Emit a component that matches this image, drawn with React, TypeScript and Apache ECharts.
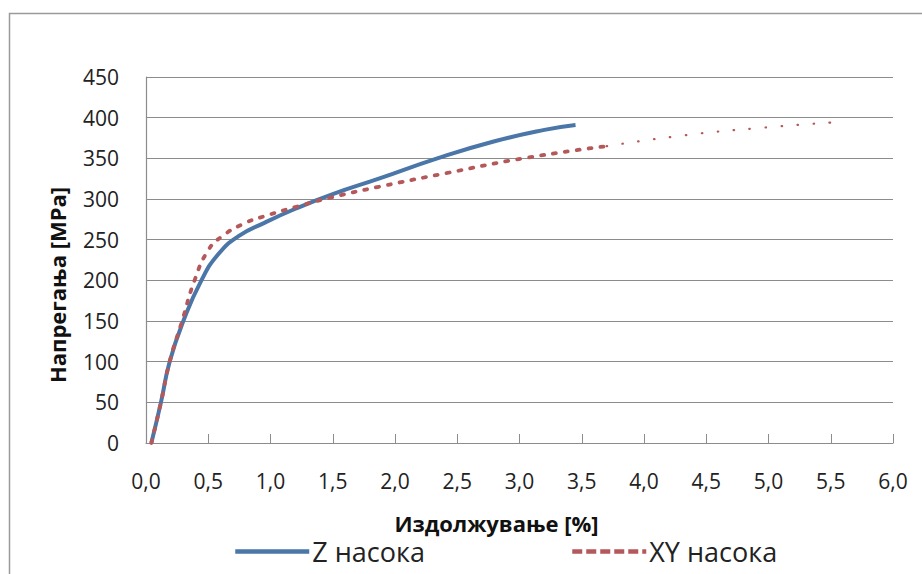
import React, { useEffect, useRef } from "react";
import * as echarts from "echarts";

const xTicks = { min: 0, max: 6, interval: 0.5 };
const yTicks = { min: 0, max: 450, interval: 50 };

const zStrain = [0.043, 0.12, 0.19, 0.30, 0.445, 0.58, 0.74, 0.955, 1.2, 1.5, 1.87, 2.34, 2.8, 3.2, 3.45];
const zStress = [0, 50, 100, 150, 200, 232, 254, 271, 288, 306, 325, 350, 371, 385, 391];

const xyStrain = [0.043, 0.12, 0.19, 0.29, 0.39, 0.5, 0.61, 0.79, 0.955, 1.22, 1.49, 1.87, 2.42, 3.03, 3.7, 4.36, 4.98, 5.5];
const xyStress = [0, 50, 100, 150, 200, 237, 254, 270, 279, 291, 302, 315, 332, 350, 365, 379, 388, 394];

const xTitle = "Издолжување [%]";
const yTitle = "Напрегања [MPa]";
const zName = "Z насока";
const xyName = "XY насока";

const FONT = "'Open Sans', 'Liberation Sans', sans-serif";

export default function App() {
  const ref = useRef<HTMLDivElement>(null);
  useEffect(() => {
    if (!ref.current) return;
    const chart = echarts.init(ref.current, undefined, { renderer: "svg" });
    const zData = zStrain.map((x, i) => [x, zStress[i]]);
    const xyAll = xyStrain.map((x, i) => [x, xyStress[i]]);
    const split = xyStrain.findIndex((x) => x >= 3.7);
    const xyMain = xyAll.slice(0, split + 1);
    const xyTail = xyAll.slice(split);
    const blue = "#4a76a8";
    const red = "#b5585a";
    const legendBase = {
      top: 533,
      itemWidth: 74,
      itemHeight: 14,
      itemGap: 4,
      itemStyle: { opacity: 0 },
      textStyle: { fontSize: 27, color: "#222", fontFamily: FONT, padding: [0, 0, 0, -2] },
    };
    chart.setOption({
      animation: false,
      backgroundColor: "#ffffff",
      textStyle: { fontFamily: FONT },
      graphic: [
        {
          type: "rect",
          left: 7,
          top: 11,
          shape: { x: 0, y: 0, width: 940, height: 600 },
          style: { fill: "none", stroke: "#9a9a9a", lineWidth: 1.5 },
          silent: true,
        },
      ],
      grid: { left: 146, right: 29, top: 77, bottom: 131 },
      xAxis: {
        type: "value",
        min: xTicks.min,
        max: xTicks.max,
        interval: xTicks.interval,
        name: xTitle,
        nameLocation: "middle",
        nameGap: 69,
        nameTextStyle: {
          fontSize: 22,
          fontWeight: "bold",
          color: "#111",
          fontFamily: FONT,
          padding: [0, 46, 0, 0],
        },
        axisLine: { show: true, lineStyle: { color: "#8c8c8c", width: 1.2 } },
        axisTick: { show: true, inside: true, length: 9, lineStyle: { color: "#8c8c8c" } },
        splitLine: { show: false },
        axisLabel: {
          fontSize: 21,
          color: "#222",
          margin: 27,
          fontFamily: FONT,
          formatter: (v: number) => v.toFixed(1).replace(".", ","),
        },
      },
      yAxis: {
        type: "value",
        min: yTicks.min,
        max: yTicks.max,
        interval: yTicks.interval,
        name: yTitle,
        nameLocation: "middle",
        nameGap: 78,
        nameRotate: 90,
        nameTextStyle: {
          fontSize: 22,
          fontWeight: "bold",
          color: "#111",
          fontFamily: FONT,
          padding: [0, 50, 0, 0],
        },
        axisLine: { show: true, lineStyle: { color: "#8c8c8c", width: 1.2 } },
        axisTick: { show: false },
        splitLine: { show: true, lineStyle: { color: "#8c8c8c", width: 1.2 } },
        axisLabel: { fontSize: 21, color: "#222", margin: 27, fontFamily: FONT },
      },
      legend: [
        {
          ...legendBase,
          data: [{ name: zName, lineStyle: { width: 4.5, color: blue } }],
          left: 228,
        },
        {
          ...legendBase,
          data: [
            {
              name: xyName,
              lineStyle: { width: 4.5, color: red, type: [10, 4], cap: "butt" },
            },
          ],
          left: 565,
        },
      ],
      series: [
        {
          name: zName,
          type: "line",
          data: zData,
          smooth: true,
          showSymbol: false,
          symbol: "none",
          lineStyle: { color: blue, width: 4 },
          itemStyle: { color: blue },
        },
        {
          name: xyName,
          type: "line",
          data: xyMain,
          smooth: true,
          showSymbol: false,
          symbol: "none",
          lineStyle: { color: red, width: 3.8, type: [3, 9], cap: "round" },
          itemStyle: { color: red },
        },
        {
          name: "xy-tail",
          type: "line",
          data: xyTail,
          smooth: true,
          showSymbol: false,
          symbol: "none",
          lineStyle: { color: red, width: 2.2, type: [0.5, 15.5], cap: "round" },
          itemStyle: { color: red },
        },
      ],
    });
    return () => chart.dispose();
  }, []);
  return (
    <div
      ref={ref}
      style={{ position: "fixed", left: 0, top: 0, width: 922, height: 574 }}
    />
  );
}
